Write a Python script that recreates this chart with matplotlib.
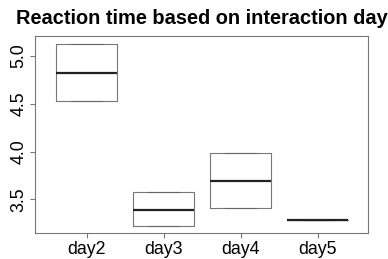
import matplotlib
matplotlib.use("Agg")
import matplotlib.pyplot as plt

days = ["day2", "day3", "day4", "day5"]
q1 = [4.527, 3.225, 3.407, 3.281]
med = [4.823, 3.392, 3.692, 3.285]
q3 = [5.125, 3.574, 3.981, 3.289]
whis_lo = [4.527, 3.225, 3.407, 3.281]
whis_hi = [5.125, 3.574, 3.981, 3.289]

plt.rcParams["font.family"] = ["Liberation Sans", "DejaVu Sans"]

stats = []
for i in range(len(days)):
    stats.append(dict(label=days[i], q1=q1[i], med=med[i], q3=q3[i],
                      whislo=whis_lo[i], whishi=whis_hi[i], fliers=[]))

fig = plt.figure(figsize=(3.88, 2.59), dpi=100)
ax = fig.add_axes([0.091, 0.099, 0.858, 0.762])

ax.bxp(stats, positions=[1, 2, 3, 4], widths=0.8, showfliers=False,
       boxprops=dict(color="#777777", linewidth=0.8),
       whiskerprops=dict(color="#777777", linewidth=0.8),
       capprops=dict(color="#666666", linewidth=0.8),
       medianprops=dict(color="#222222", linewidth=1.6),
       capwidths=0.4)

ax.set_xlim(0.333, 4.657)
ax.set_ylim(3.146, 5.206)
ax.set_yticks([3.5, 4.0, 4.5, 5.0])
ax.set_yticklabels(["3.5", "4.0", "4.5", "5.0"], rotation=90, va="center")
ax.set_xticks([1, 2, 3, 4])
ax.set_xticklabels(days)
ax.tick_params(labelsize=12.8, length=3.5, width=0.8, color="#777777", pad=2)

for s in ax.spines.values():
    s.set_color("#777777")
    s.set_linewidth(0.8)

ax.set_title("Reaction time based on interaction day", fontsize=14.4,
             fontweight="bold", pad=9)

plt.savefig("out.png", dpi=100)
